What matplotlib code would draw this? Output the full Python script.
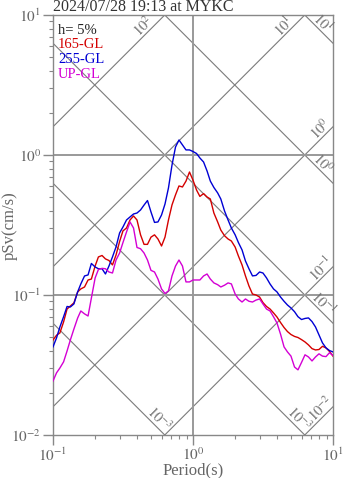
import numpy as np
import matplotlib
matplotlib.use("Agg")
import matplotlib.pyplot as plt
from matplotlib.ticker import LogLocator, NullFormatter, FixedLocator

plt.rcParams['font.family'] = ['Liberation Serif', 'DejaVu Serif']
plt.rcParams['mathtext.fontset'] = 'stix'

# period grid (s)
period = [0.100, 0.106, 0.112, 0.119, 0.126, 0.133, 0.141, 0.150, 0.158, 0.168,
          0.178, 0.188, 0.200, 0.211, 0.224, 0.237, 0.251, 0.266, 0.282, 0.299,
          0.316, 0.335, 0.355, 0.376, 0.398, 0.422, 0.447, 0.473, 0.501, 0.531,
          0.562, 0.596, 0.631, 0.668, 0.708, 0.750, 0.794, 0.841, 0.891, 0.944,
          1.00, 1.06, 1.12, 1.19, 1.26, 1.33, 1.41, 1.50, 1.58, 1.68,
          1.78, 1.88, 2.00, 2.11, 2.24, 2.37, 2.51, 2.66, 2.82, 2.99,
          3.16, 3.35, 3.55, 3.76, 3.98, 4.22, 4.47, 4.73, 5.01, 5.31,
          5.62, 5.96, 6.31, 6.68, 7.08, 7.50, 7.94, 8.41, 8.91, 9.44, 10.0]

# pseudo velocity response (cm/s)
sv_165 = [0.0477, 0.0516, 0.0536, 0.0642, 0.0794, 0.0834, 0.0878, 0.1052, 0.1105, 0.1141,
          0.1280, 0.1300, 0.1612, 0.1870, 0.1915, 0.1810, 0.1764, 0.1640, 0.1930, 0.2410,
          0.2870, 0.3010, 0.3435, 0.3670, 0.3435, 0.2690, 0.2300, 0.2300, 0.2590, 0.2690,
          0.2512, 0.2239, 0.2590, 0.3435, 0.4400, 0.5190, 0.6010, 0.5910, 0.6510, 0.7560,
          0.6610, 0.5623, 0.5060, 0.5300, 0.5012, 0.4850, 0.3850, 0.3325, 0.2910, 0.2650,
          0.2512, 0.2430, 0.2200, 0.1900, 0.1640, 0.1369, 0.1160, 0.1016, 0.1000, 0.0967,
          0.0883, 0.0828, 0.0794, 0.0745, 0.0696, 0.0636, 0.0586, 0.0548, 0.0522, 0.0506,
          0.0497, 0.0480, 0.0462, 0.0440, 0.0414, 0.0405, 0.0408, 0.0430, 0.0419, 0.0395, 0.0366]

sv_255 = [0.0426, 0.0494, 0.0591, 0.0699, 0.0828, 0.0821, 0.0863, 0.1052, 0.1199, 0.1368,
          0.1391, 0.1680, 0.1585, 0.1540, 0.1540, 0.1413, 0.1610, 0.1870, 0.2205, 0.2775,
          0.3060, 0.3435, 0.3610, 0.3790, 0.3850, 0.4050, 0.4390, 0.4730, 0.3920, 0.3300,
          0.3325, 0.3730, 0.4467, 0.5820, 0.8480, 1.140, 1.280, 1.180, 1.087, 1.087,
          1.059, 1.025, 0.952, 0.891, 0.7690, 0.6510, 0.5860, 0.5360, 0.4850, 0.3981,
          0.3435, 0.3010, 0.2690, 0.2370, 0.2100, 0.1750, 0.1540, 0.1369, 0.1380, 0.1460,
          0.1436, 0.1325, 0.1199, 0.1105, 0.1052, 0.0967, 0.0902, 0.0848, 0.0808, 0.0760,
          0.0700, 0.0668, 0.0680, 0.0686, 0.0646, 0.0591, 0.0519, 0.0455, 0.0419, 0.0401, 0.0392]

sv_up = [0.0243, 0.0278, 0.0301, 0.0333, 0.0398, 0.0477, 0.0571, 0.0685, 0.0769, 0.0733,
         0.0708, 0.0952, 0.1325, 0.1520, 0.1550, 0.1540, 0.1460, 0.1436, 0.1778, 0.1995,
         0.2370, 0.2818, 0.3325, 0.3010, 0.2185, 0.2140, 0.1995, 0.1778, 0.1500, 0.1460,
         0.1300, 0.1105, 0.1025, 0.1070, 0.1369, 0.1610, 0.1778, 0.1610, 0.1240, 0.1240,
         0.1280, 0.1280, 0.1280, 0.1368, 0.1413, 0.1300, 0.1220, 0.1185, 0.1141, 0.1175,
         0.1220, 0.1200, 0.1016, 0.0937, 0.0891, 0.0937, 0.0902, 0.0891, 0.0920, 0.0937,
         0.0863, 0.0794, 0.0769, 0.0699, 0.0631, 0.0525, 0.0426, 0.0392, 0.0366, 0.0306,
         0.0292, 0.0330, 0.0374, 0.0361, 0.0338, 0.0361, 0.0380, 0.0366, 0.0363, 0.0387, 0.0370]

series_names = ['165-GL', '255-GL', 'UP-GL']
series_colors = ['#d40000', '#0000d4', '#d400d4']

# tripartite guide levels
acc_levels = [1e2, 1e1, 1e0, 1e-1, 1e-2]          # cm/s^2
acc_texts = ['$10^2$', '$10^1$', '$10^0$', '$10^{-1}$', '$10^{-2}$']
disp_levels = [1e1, 1e0, 1e-1, 1e-2, 1e-3]        # cm
disp_texts = ['$10^1$', '$10^0$', '$10^{-1}$', '$10^{-3}$', '$10^{-3}$']

W, H = 347, 478
fig = plt.figure(figsize=(W / 100, H / 100), dpi=100)
ax = fig.add_axes([53 / W, 1 - 435 / H, 280 / W, 420 / H])
ax.set_xscale('log')
ax.set_yscale('log')
ax.set_xlim(0.1, 10)
ax.set_ylim(0.01, 10)

gray = '#7a7a7a'
tp = np.array([0.1, 10.0])
for a in acc_levels:
    ax.plot(tp, a * tp / (2 * np.pi), color=gray, lw=0.8, zorder=1)
for d in disp_levels:
    ax.plot(tp, 2 * np.pi * d / tp, color=gray, lw=0.8, zorder=1)

ax.axvline(1.0, color='#999999', lw=1.4, zorder=1)
ax.axhline(1.0, color='#999999', lw=1.4, zorder=1)
ax.axhline(0.1, color='#999999', lw=1.4, zorder=1)

# labels of the guide lines (log space: u = log T, v = log Sv)
dec = 140.0
for a, s in zip(acc_levels, acc_texts):
    c = np.log10(a) - np.log10(2 * np.pi)
    u_end = min(1.0, 1.0 - c)
    back = 7 if u_end >= 1.0 else 16
    u = u_end - back / dec
    v = u + c
    ax.annotate(s, (10 ** u, 10 ** v), xytext=(-5, 5), textcoords='offset pixels',
                rotation=45, ha='center', va='center', rotation_mode='anchor',
                fontsize=10.5, color='#707070', annotation_clip=False)
for d, s in zip(disp_levels, disp_texts):
    c = np.log10(2 * np.pi * d)
    u_end = min(1.0, c + 2.0)
    back = 15 if u_end >= 1.0 else 11
    u = u_end - back / dec
    v = -u + c
    ax.annotate(s, (10 ** u, 10 ** v), xytext=(5, 5), textcoords='offset pixels',
                rotation=-45, ha='center', va='center', rotation_mode='anchor',
                fontsize=10.5, color='#707070', annotation_clip=False)

for sv, col in zip([sv_165, sv_255, sv_up], series_colors):
    ax.plot(period, sv, color=col, lw=1.0, zorder=3)

for sp in ax.spines.values():
    sp.set_color('#888888')
    sp.set_linewidth(1.0)

ax.xaxis.set_major_locator(FixedLocator([0.1, 1, 10]))
ax.yaxis.set_major_locator(FixedLocator([0.01, 0.1, 1, 10]))
ax.xaxis.set_minor_locator(LogLocator(base=10, subs=np.arange(2, 10)))
ax.yaxis.set_minor_locator(LogLocator(base=10, subs=np.arange(2, 10)))
ax.xaxis.set_minor_formatter(NullFormatter())
ax.yaxis.set_minor_formatter(NullFormatter())
ax.set_xticklabels(['$10^{-1}$', '$10^0$', '$10^1$'])
ax.set_yticklabels(['$10^{-2}$', '$10^{-1}$', '$10^0$', '$10^1$'])
ax.tick_params(which='major', direction='out', length=7, width=1, color='#888888',
               labelcolor='#666666', labelsize=11, pad=1.5)
ax.tick_params(which='minor', direction='out', length=3.2, width=0.8, color='#888888')

fig.text(53 / W, 1 - 11 / H, '2024/07/28 19:13 at MYKC', fontsize=11.5,
         color='#333333', ha='left', va='baseline')
fig.text(10 / W, 1 - 226 / H, 'pSv(cm/s)', fontsize=12, color='#666666',
         rotation=90, ha='center', va='center')
fig.text(193 / W, 1 - 470 / H, 'Period(s)', fontsize=12, color='#666666',
         ha='center', va='center')

fig.text(58 / W, 1 - 34.5 / H, 'h= 5%', fontsize=10.5, color='#222222', va='baseline')
for i, (name, col) in enumerate(zip(series_names, series_colors)):
    fig.text(58 / W, 1 - (48.5 + 14.5 * i) / H, name, fontsize=10.5, color=col,
             va='baseline')

fig.savefig('out.png', dpi=100)
